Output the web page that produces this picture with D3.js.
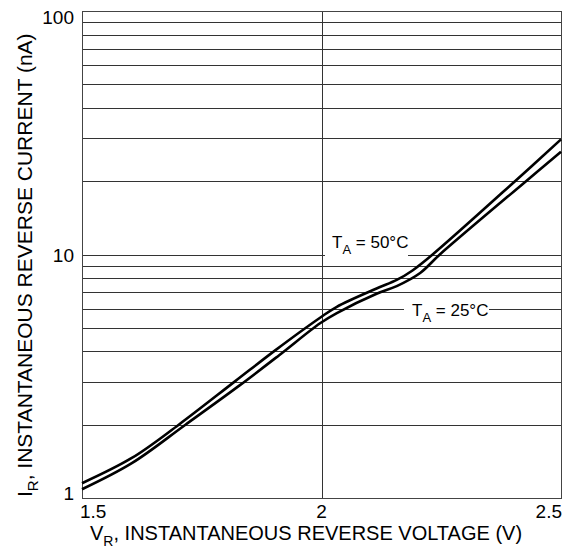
<!DOCTYPE html>
<html>
<head>
<meta charset="utf-8">
<script src="https://cdn.jsdelivr.net/npm/d3@7"></script>
<style>
  body { margin: 0; background: #fff; }
  text { font-family: "Liberation Sans", Arial, sans-serif; fill: #000; }
</style>
</head>
<body>
<div id="chart"></div>
<script>
// data
var vHot = [1.5, 1.604, 1.702, 1.82, 1.904, 1.997, 2.032, 2.115, 2.157, 2.19, 2.232, 2.404, 2.5];
var iHot = [1.15, 1.46, 2.0, 3.02, 4.05, 5.5, 6.1, 7.25, 7.86, 8.6, 10, 20, 29.7];
var vCold = [1.5, 1.604, 1.716, 1.829, 1.911, 1.997, 2.032, 2.115, 2.157, 2.206, 2.247, 2.427, 2.5];
var iCold = [1.086, 1.39, 2.0, 2.9, 3.85, 5.22, 5.75, 6.9, 7.42, 8.4, 10, 20, 26.4];
var xTicks = [1.5, 2, 2.5];
var yTicks = [1, 10, 100];
var xGrid = [2];
var yGrid = [2, 3, 4, 5, 6, 7, 8, 9, 10, 20, 30, 40, 50, 60, 70, 80, 90];

var W = 567, H = 548,
	pL = 82, pT = 11, pR = 561, pB = 498;

var svg = d3.select('#chart').append('svg')
	.attr('width', W)
	.attr('height', H);

var x = d3.scaleLinear().domain([1.5, 2.5]).range([pL, pR]);
var y = d3.scaleLog().domain([1, 100]).range([pB, pT]);

// grid
svg.selectAll('.hg').data(yGrid).enter().append('line')
	.attr('x1', pL).attr('x2', pR)
	.attr('y1', function(d){ return Math.round(y(d)) + 0.5; })
	.attr('y2', function(d){ return Math.round(y(d)) + 0.5; })
	.attr('stroke', '#333').attr('stroke-width', 1);

svg.selectAll('.vg').data(xGrid).enter().append('line')
	.attr('y1', pT).attr('y2', pB)
	.attr('x1', function(d){ return Math.round(x(d)) + 0.5; })
	.attr('x2', function(d){ return Math.round(x(d)) + 0.5; })
	.attr('stroke', '#333').attr('stroke-width', 1);

// frame
svg.append('rect')
	.attr('x', pL + 0.5).attr('y', pT + 0.5)
	.attr('width', pR - pL).attr('height', pB - pT)
	.attr('fill', 'none').attr('stroke', '#444').attr('stroke-width', 1);

// curves
var line = d3.line()
	.x(function(d){ return x(d[0]); })
	.y(function(d){ return y(d[1]); })
	.curve(d3.curveCatmullRom.alpha(0.5));

[[vHot, iHot], [vCold, iCold]].forEach(function(s){
	var pts = s[0].map(function(v, i){ return [v, s[1][i]]; });
	svg.append('path')
		.attr('d', line(pts))
		.attr('fill', 'none')
		.attr('stroke', '#000')
		.attr('stroke-width', 2.6);
});

// curve labels with white boxes
var labels = [
	{t: '50°C', x0: 325, x1: 408, tx: 332, base: y(10) - 7},
	{t: '25°C', x0: 404, x1: 489, tx: 412, base: y(6) + 7}
];
labels.forEach(function(l){
	svg.append('rect')
		.attr('x', l.x0).attr('y', l.base - 15)
		.attr('width', l.x1 - l.x0).attr('height', 24)
		.attr('fill', '#fff');
	var t = svg.append('text')
		.attr('x', l.tx).attr('y', l.base)
		.style('font-size', '17px');
	t.append('tspan').text('T');
	t.append('tspan').attr('dy', 6).style('font-size', '13px').text('A');
	t.append('tspan').attr('dy', -6).text(' = ' + l.t);
});

// tick labels
svg.selectAll('.yt').data(yTicks).enter().append('text')
	.attr('x', 74)
	.attr('y', function(d){ return Math.min(Math.max(y(d) + 7, pT + 13), pB + 2); })
	.attr('text-anchor', 'end')
	.style('font-size', '19px')
	.text(function(d){ return d; });

svg.selectAll('.xt').data(xTicks).enter().append('text')
	.attr('x', function(d, i){ return i == 0 ? pL - 2 : (i == xTicks.length - 1 ? pR + 1 : x(d)); })
	.attr('y', 518)
	.attr('text-anchor', function(d, i){ return i == 0 ? 'start' : (i == xTicks.length - 1 ? 'end' : 'middle'); })
	.style('font-size', '19px')
	.text(function(d){ return d; });

// axis titles
var xt = svg.append('text')
	.attr('x', 90).attr('y', 540)
	.attr('text-anchor', 'start')
	.style('font-size', '20px');
xt.append('tspan').text('V');
xt.append('tspan').attr('dy', 6).style('font-size', '14px').text('R');
xt.append('tspan').attr('dy', -6).text(', INSTANTANEOUS REVERSE VOLTAGE (V)');

var yt = svg.append('text')
	.attr('transform', 'translate(32,497) rotate(-90)')
	.attr('text-anchor', 'start')
	.style('font-size', '21px');
yt.append('tspan').text('I');
yt.append('tspan').attr('dy', 6).style('font-size', '15px').text('R');
yt.append('tspan').attr('dy', -6).text(', INSTANTANEOUS REVERSE CURRENT (nA)');
</script>
</body>
</html>
